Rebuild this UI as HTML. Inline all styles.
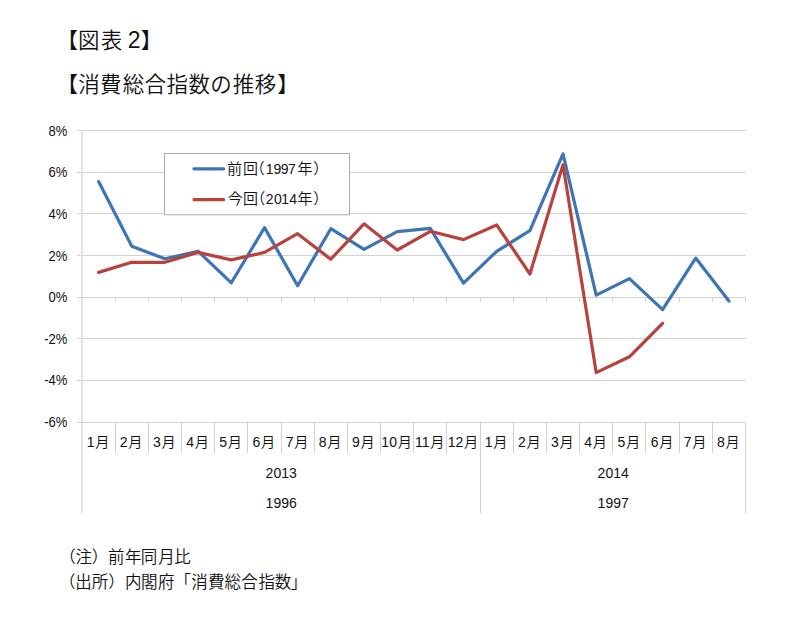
<!DOCTYPE html>
<html lang="ja"><head><meta charset="utf-8"><title>消費総合指数の推移</title>
<style>
html,body{margin:0;padding:0;background:#fff;}
body{width:800px;height:621px;overflow:hidden;position:relative;}
svg{position:absolute;left:0;top:0;display:block;}
text{font-family:"Liberation Sans", "Noto Sans CJK JP", sans-serif;fill:#111;font-feature-settings:"palt";font-weight:350;}
.ax{font-size:14px;}
.mo{font-size:14px;}
.mj{font-size:14.2px;}
.yr{font-size:14px;}
</style></head><body>
<svg width="800" height="621" viewBox="0 0 800 621">
<line x1="77" y1="130.5" x2="746" y2="130.5" stroke="#d2d2d2" stroke-width="1"/>
<line x1="77" y1="172.5" x2="746" y2="172.5" stroke="#d2d2d2" stroke-width="1"/>
<line x1="77" y1="213.5" x2="746" y2="213.5" stroke="#d2d2d2" stroke-width="1"/>
<line x1="77" y1="255.5" x2="746" y2="255.5" stroke="#d2d2d2" stroke-width="1"/>
<line x1="77" y1="297.5" x2="746" y2="297.5" stroke="#d2d2d2" stroke-width="1"/>
<line x1="77" y1="338.5" x2="746" y2="338.5" stroke="#d2d2d2" stroke-width="1"/>
<line x1="77" y1="380.5" x2="746" y2="380.5" stroke="#d2d2d2" stroke-width="1"/>
<line x1="77" y1="422.5" x2="746" y2="422.5" stroke="#d2d2d2" stroke-width="1"/>
<line x1="82" y1="130" x2="82" y2="513" stroke="#e2e2e2" stroke-width="2"/>
<line x1="115.5" y1="297" x2="115.5" y2="302" stroke="#d2d2d2" stroke-width="1"/>
<line x1="148.5" y1="297" x2="148.5" y2="302" stroke="#d2d2d2" stroke-width="1"/>
<line x1="181.5" y1="297" x2="181.5" y2="302" stroke="#d2d2d2" stroke-width="1"/>
<line x1="214.5" y1="297" x2="214.5" y2="302" stroke="#d2d2d2" stroke-width="1"/>
<line x1="247.5" y1="297" x2="247.5" y2="302" stroke="#d2d2d2" stroke-width="1"/>
<line x1="281.5" y1="297" x2="281.5" y2="302" stroke="#d2d2d2" stroke-width="1"/>
<line x1="314.5" y1="297" x2="314.5" y2="302" stroke="#d2d2d2" stroke-width="1"/>
<line x1="347.5" y1="297" x2="347.5" y2="302" stroke="#d2d2d2" stroke-width="1"/>
<line x1="380.5" y1="297" x2="380.5" y2="302" stroke="#d2d2d2" stroke-width="1"/>
<line x1="413.5" y1="297" x2="413.5" y2="302" stroke="#d2d2d2" stroke-width="1"/>
<line x1="446.5" y1="297" x2="446.5" y2="302" stroke="#d2d2d2" stroke-width="1"/>
<line x1="480.5" y1="297" x2="480.5" y2="302" stroke="#d2d2d2" stroke-width="1"/>
<line x1="513.5" y1="297" x2="513.5" y2="302" stroke="#d2d2d2" stroke-width="1"/>
<line x1="546.5" y1="297" x2="546.5" y2="302" stroke="#d2d2d2" stroke-width="1"/>
<line x1="579.5" y1="297" x2="579.5" y2="302" stroke="#d2d2d2" stroke-width="1"/>
<line x1="612.5" y1="297" x2="612.5" y2="302" stroke="#d2d2d2" stroke-width="1"/>
<line x1="645.5" y1="297" x2="645.5" y2="302" stroke="#d2d2d2" stroke-width="1"/>
<line x1="679.5" y1="297" x2="679.5" y2="302" stroke="#d2d2d2" stroke-width="1"/>
<line x1="712.5" y1="297" x2="712.5" y2="302" stroke="#d2d2d2" stroke-width="1"/>
<line x1="745.5" y1="297" x2="745.5" y2="302" stroke="#d2d2d2" stroke-width="1"/>
<line x1="115.5" y1="423" x2="115.5" y2="453" stroke="#d2d2d2" stroke-width="1"/>
<line x1="148.5" y1="423" x2="148.5" y2="453" stroke="#d2d2d2" stroke-width="1"/>
<line x1="181.5" y1="423" x2="181.5" y2="453" stroke="#d2d2d2" stroke-width="1"/>
<line x1="214.5" y1="423" x2="214.5" y2="453" stroke="#d2d2d2" stroke-width="1"/>
<line x1="247.5" y1="423" x2="247.5" y2="453" stroke="#d2d2d2" stroke-width="1"/>
<line x1="281.5" y1="423" x2="281.5" y2="453" stroke="#d2d2d2" stroke-width="1"/>
<line x1="314.5" y1="423" x2="314.5" y2="453" stroke="#d2d2d2" stroke-width="1"/>
<line x1="347.5" y1="423" x2="347.5" y2="453" stroke="#d2d2d2" stroke-width="1"/>
<line x1="380.5" y1="423" x2="380.5" y2="453" stroke="#d2d2d2" stroke-width="1"/>
<line x1="413.5" y1="423" x2="413.5" y2="453" stroke="#d2d2d2" stroke-width="1"/>
<line x1="446.5" y1="423" x2="446.5" y2="453" stroke="#d2d2d2" stroke-width="1"/>
<line x1="480.5" y1="423" x2="480.5" y2="513" stroke="#d2d2d2" stroke-width="1"/>
<line x1="513.5" y1="423" x2="513.5" y2="453" stroke="#d2d2d2" stroke-width="1"/>
<line x1="546.5" y1="423" x2="546.5" y2="453" stroke="#d2d2d2" stroke-width="1"/>
<line x1="579.5" y1="423" x2="579.5" y2="453" stroke="#d2d2d2" stroke-width="1"/>
<line x1="612.5" y1="423" x2="612.5" y2="453" stroke="#d2d2d2" stroke-width="1"/>
<line x1="645.5" y1="423" x2="645.5" y2="453" stroke="#d2d2d2" stroke-width="1"/>
<line x1="679.5" y1="423" x2="679.5" y2="453" stroke="#d2d2d2" stroke-width="1"/>
<line x1="712.5" y1="423" x2="712.5" y2="453" stroke="#d2d2d2" stroke-width="1"/>
<line x1="745.5" y1="423" x2="745.5" y2="513" stroke="#d2d2d2" stroke-width="1"/>
<text transform="translate(67.4 135.7) scale(0.93 1.02)" text-anchor="end" class="ax">8%</text>
<text transform="translate(67.4 177.3) scale(0.93 1.02)" text-anchor="end" class="ax">6%</text>
<text transform="translate(67.4 218.9) scale(0.93 1.02)" text-anchor="end" class="ax">4%</text>
<text transform="translate(67.4 260.5) scale(0.93 1.02)" text-anchor="end" class="ax">2%</text>
<text transform="translate(67.4 302.1) scale(0.93 1.02)" text-anchor="end" class="ax">0%</text>
<text transform="translate(67.4 343.7) scale(0.93 1.02)" text-anchor="end" class="ax">-2%</text>
<text transform="translate(67.4 385.3) scale(0.93 1.02)" text-anchor="end" class="ax">-4%</text>
<text transform="translate(67.4 426.9) scale(0.93 1.02)" text-anchor="end" class="ax">-6%</text>
<text x="98.0" y="446.8" text-anchor="middle" class="mo">1<tspan class="mj" dx="0.7">月</tspan></text>
<text x="131.2" y="446.8" text-anchor="middle" class="mo">2<tspan class="mj" dx="0.7">月</tspan></text>
<text x="164.3" y="446.8" text-anchor="middle" class="mo">3<tspan class="mj" dx="0.7">月</tspan></text>
<text x="197.5" y="446.8" text-anchor="middle" class="mo">4<tspan class="mj" dx="0.7">月</tspan></text>
<text x="230.7" y="446.8" text-anchor="middle" class="mo">5<tspan class="mj" dx="0.7">月</tspan></text>
<text x="263.9" y="446.8" text-anchor="middle" class="mo">6<tspan class="mj" dx="0.7">月</tspan></text>
<text x="297.0" y="446.8" text-anchor="middle" class="mo">7<tspan class="mj" dx="0.7">月</tspan></text>
<text x="330.2" y="446.8" text-anchor="middle" class="mo">8<tspan class="mj" dx="0.7">月</tspan></text>
<text x="363.4" y="446.8" text-anchor="middle" class="mo">9<tspan class="mj" dx="0.7">月</tspan></text>
<text x="396.6" y="446.8" text-anchor="middle" class="mo">10<tspan class="mj" dx="0.7">月</tspan></text>
<text x="429.7" y="446.8" text-anchor="middle" class="mo">11<tspan class="mj" dx="0.7">月</tspan></text>
<text x="462.9" y="446.8" text-anchor="middle" class="mo">12<tspan class="mj" dx="0.7">月</tspan></text>
<text x="496.1" y="446.8" text-anchor="middle" class="mo">1<tspan class="mj" dx="0.7">月</tspan></text>
<text x="529.3" y="446.8" text-anchor="middle" class="mo">2<tspan class="mj" dx="0.7">月</tspan></text>
<text x="562.4" y="446.8" text-anchor="middle" class="mo">3<tspan class="mj" dx="0.7">月</tspan></text>
<text x="595.6" y="446.8" text-anchor="middle" class="mo">4<tspan class="mj" dx="0.7">月</tspan></text>
<text x="628.8" y="446.8" text-anchor="middle" class="mo">5<tspan class="mj" dx="0.7">月</tspan></text>
<text x="662.0" y="446.8" text-anchor="middle" class="mo">6<tspan class="mj" dx="0.7">月</tspan></text>
<text x="695.1" y="446.8" text-anchor="middle" class="mo">7<tspan class="mj" dx="0.7">月</tspan></text>
<text x="728.3" y="446.8" text-anchor="middle" class="mo">8<tspan class="mj" dx="0.7">月</tspan></text>
<text x="281.2" y="478" text-anchor="middle" class="yr">2013</text>
<text x="281.2" y="508" text-anchor="middle" class="yr">1996</text>
<text x="613.2" y="478" text-anchor="middle" class="yr">2014</text>
<text x="613.2" y="508" text-anchor="middle" class="yr">1997</text>
<rect x="164.5" y="153.5" width="185" height="61.3" fill="#fff" stroke="#aaaaaa" stroke-width="1"/>
<line x1="194" y1="168.8" x2="223.7" y2="168.8" stroke="#3f74b5" stroke-width="3.2" stroke-linecap="round"/>
<line x1="194" y1="199.7" x2="223.7" y2="199.7" stroke="#b7433f" stroke-width="3.2" stroke-linecap="round"/>
<text y="173.8" class=""><tspan x="227.10 243.00 256.80" style="font-size:15px">前回（</tspan><tspan x="265.80 273.50 280.80 288.05" style="font-size:14px">1997</tspan><tspan x="297.55 313.80" style="font-size:15px">年）</tspan></text>
<text y="204.2" class=""><tspan x="227.65 243.05 257.25" style="font-size:15px">今回（</tspan><tspan x="265.80 274.00 281.15 289.20" style="font-size:14px">2014</tspan><tspan x="297.55 313.80" style="font-size:15px">年）</tspan></text>
<polyline points="98.6,181.6 131.8,246.3 164.9,258.8 198.1,251.2 231.3,282.8 264.5,227.6 297.6,285.7 330.8,228.7 364.0,249.3 397.2,231.7 430.3,228.3 463.5,283.2 496.7,251.3 529.9,230.6 563.0,153.9 596.2,295.1 629.4,278.6 662.6,309.6 695.7,258.1 728.9,301.1" fill="none" stroke="#3f74b5" stroke-width="3.2" stroke-linejoin="round" stroke-linecap="round"/>
<polyline points="98.6,272.4 131.8,262.3 164.9,262.3 198.1,252.4 231.3,259.9 264.5,252.4 297.6,233.7 330.8,259.2 364.0,223.8 397.2,250.0 430.3,231.3 463.5,239.6 496.7,225.0 529.9,274.0 563.0,164.8 596.2,372.6 629.4,356.8 662.6,323.3" fill="none" stroke="#b7433f" stroke-width="3.2" stroke-linejoin="round" stroke-linecap="round"/>
<text y="47.5" class=""><tspan x="66.65 78.10 100.65" style="font-size:21.5px">【図表</tspan><tspan x="122.00 127.80" style="font-size:23px"> 2</tspan><tspan x="141.30" style="font-size:21.5px">】</tspan></text>
<text y="91.75" class=""><tspan x="66.65 78.35 100.05 122.65 144.45 166.55 188.45 210.55 232.65 254.65 277.80" style="font-size:21.5px">【消費総合指数の推移】</tspan></text>
<text y="562.9" class=""><tspan x="66.95 75.55 92.30 100.00 108.10 125.00 140.70 158.25 174.30" style="font-size:16.5px">（注） 前年同月比</tspan></text>
<text y="587.9" class=""><tspan x="66.60 75.35 91.85 108.90 118.00 125.00 141.10 158.10 182.45 191.30 208.00 224.50 241.30 258.60 274.65 291.20" style="font-size:16.5px">（出所） 内閣府「消費総合指数」</tspan></text>
</svg>
</body></html>
